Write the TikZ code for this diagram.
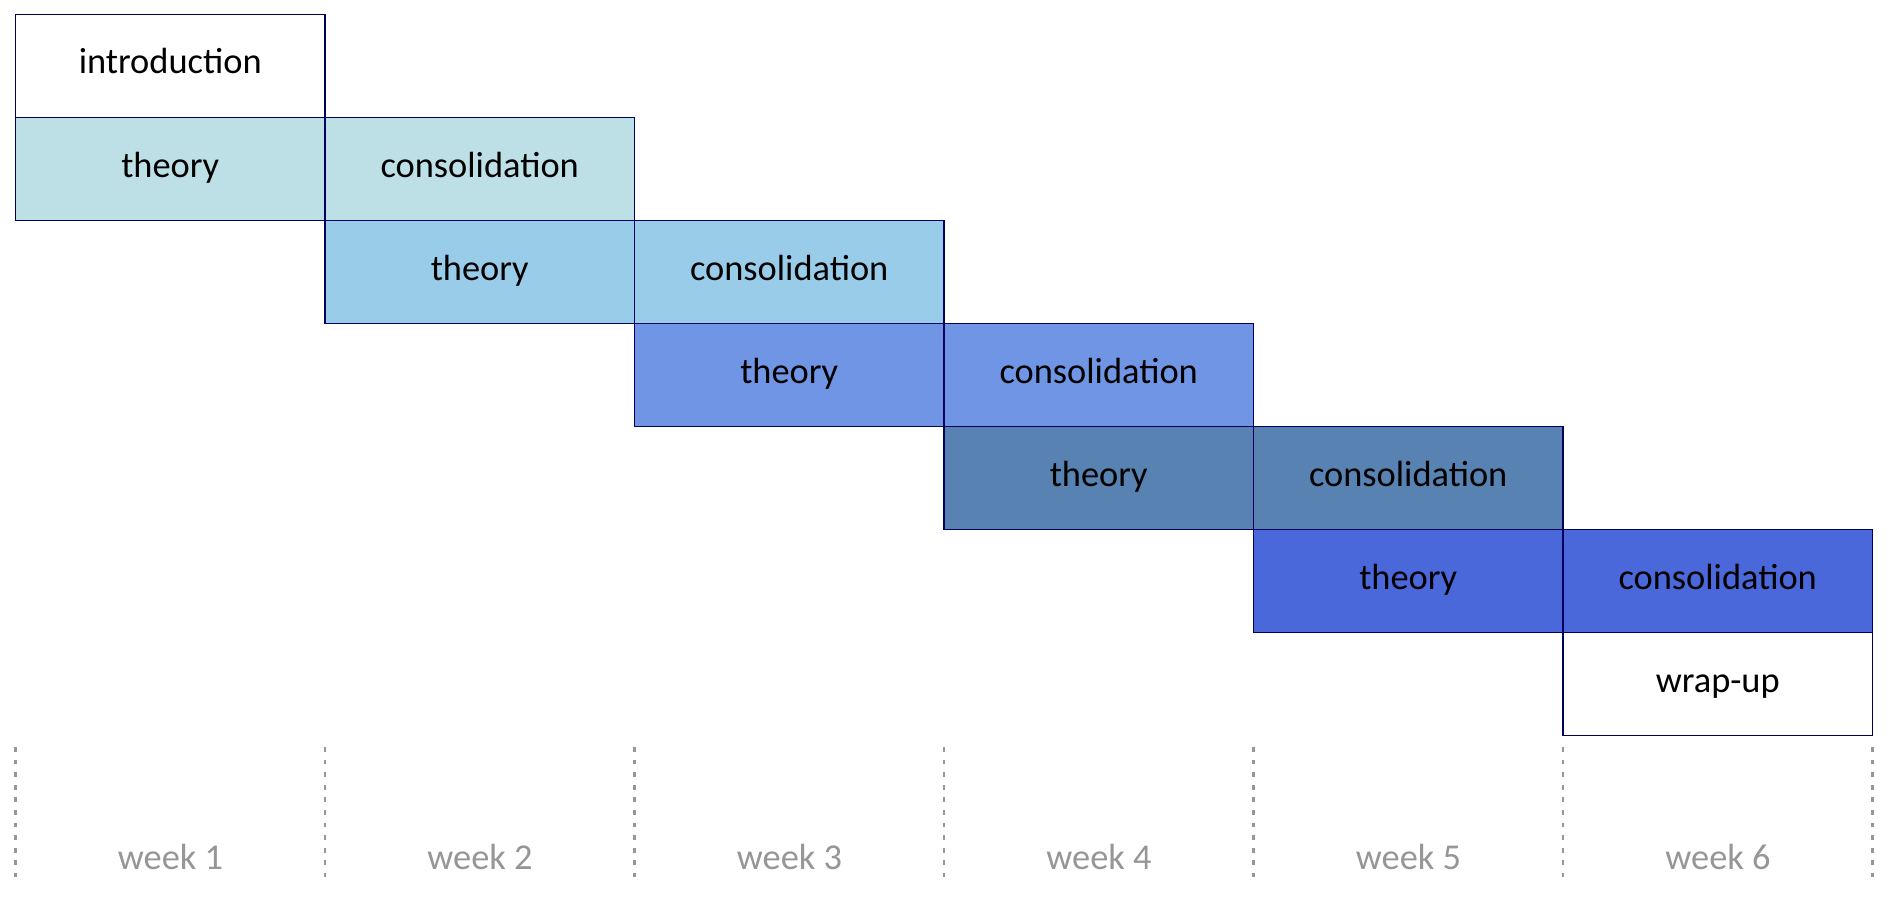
\documentclass[tikz,border=0pt]{standalone}
\usepackage{fontspec}
\setmainfont{Carlito}
\usetikzlibrary{positioning}

\definecolor{navyline}{HTML}{000060}
\definecolor{weekgray}{HTML}{969696}
\definecolor{stepA}{HTML}{BCE0E6}
\definecolor{stepB}{HTML}{99CCE9}
\definecolor{stepC}{HTML}{7095E4}
\definecolor{stepD}{HTML}{5782B2}
\definecolor{stepE}{HTML}{4A68DA}

\tikzset{
    block/.style={draw=navyline, line width=0.7pt, minimum width=154.75pt,
                  minimum height=51.5pt, inner sep=0pt, text height=12pt, text depth=4pt,
                  font=\fontsize{18.2}{20}\selectfont},
    weeklabel/.style={text=weekgray, text height=12pt, text depth=4pt,
                      font=\fontsize{18.2}{20}\selectfont}
}

\begin{document}
\begin{tikzpicture}[x=0.5pt, y=-0.5pt]
\useasboundingbox (0,0) rectangle (1890,904);
% blocks
\node[block, fill=white] (intro) at (170.25, 66) {introduction};
\node[block, fill=stepA] (th1) at (170.25, 169) {theory};
\node[block, fill=stepA] (co1) at (479.75, 169) {consolidation};
\node[block, fill=stepB] (th2) at (479.75, 272) {theory};
\node[block, fill=stepB] (co2) at (789.25, 272) {consolidation};
\node[block, fill=stepC] (th3) at (789.25, 375) {theory};
\node[block, fill=stepC] (co3) at (1098.75, 375) {consolidation};
\node[block, fill=stepD] (th4) at (1098.75, 478) {theory};
\node[block, fill=stepD] (co4) at (1408.25, 478) {consolidation};
\node[block, fill=stepE] (th5) at (1408.25, 581) {theory};
\node[block, fill=stepE] (co5) at (1717.75, 581) {consolidation};
\node[block, fill=white] (wrap) at (1717.75, 684) {wrap-up};
% week separators and labels
\foreach \k in {0,...,6}
    \draw[weekgray, line width=1.4pt, dash pattern=on 2.4pt off 3.9pt]
        (15.5+309.5*\k, 747) -- (15.5+309.5*\k, 877);
\foreach \k in {1,...,6}
    \node[weeklabel] (w\k) at (-139+309.5*\k, 861) {week \k};
\end{tikzpicture}
\end{document}
